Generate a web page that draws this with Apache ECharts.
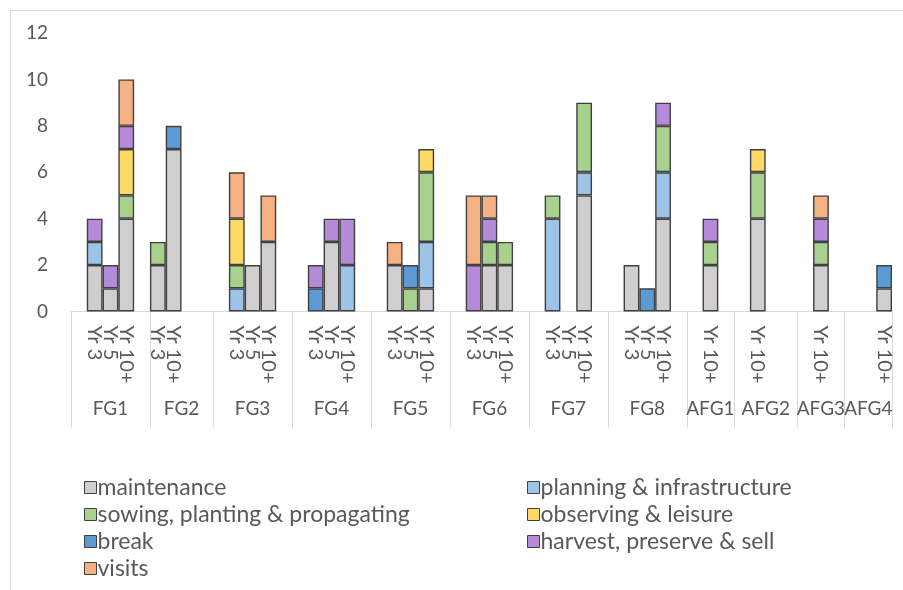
<!DOCTYPE html>
<html>
<head>
<meta charset="utf-8">
<script src="https://cdn.jsdelivr.net/npm/echarts@6/dist/echarts.min.js"></script>
<style>
    html, body { margin: 0; padding: 0; background: #fff; }
    #main { width: 903px; height: 590px; }
</style>
</head>
<body>
<div id="main"></div>
<script>
/* 分组名称及每组的分类槽位（'' 为空槽） */
var groupNames = ['FG1', 'FG2', 'FG3', 'FG4', 'FG5', 'FG6', 'FG7', 'FG8', 'AFG1', 'AFG2', 'AFG3', 'AFG4'];
var groupSlots = [
    ['', 'Yr 3', 'Yr 5', 'Yr 10+', ''],
    ['Yr 3', 'Yr 10+', '', ''],
    ['', 'Yr 3', 'Yr 5', 'Yr 10+', ''],
    ['', 'Yr 3', 'Yr 5', 'Yr 10+', ''],
    ['', 'Yr 3', 'Yr 5', 'Yr 10+', ''],
    ['', 'Yr 3', 'Yr 5', 'Yr 10+', ''],
    ['', 'Yr 3', 'Yr 5', 'Yr 10+', ''],
    ['', 'Yr 3', 'Yr 5', 'Yr 10+', ''],
    ['', 'Yr 10+', ''],
    ['', 'Yr 10+', '', ''],
    ['', 'Yr 10+', ''],
    ['', '', 'Yr 10+']
];

/* 系列名称（同时是图例顺序、堆叠顺序） */
var seriesNames = ['maintenance', 'planning & infrastructure', 'sowing, planting & propagating',
    'observing & leisure', 'break', 'harvest, preserve & sell', 'visits'];
var seriesColors = ['#d0cece', '#9dc3e6', '#a9d18e', '#ffd966', '#5b9bd5', '#b48ad9', '#f4b183'];

/* 每个非空槽位的数值，顺序：FG1(3,5,10+) FG2(3,10+) FG3..FG8(3,5,10+) AFG1..AFG4(10+) */
var maintenance = [2, 1, 4, 2, 7, 0, 2, 3, 0, 3, 0, 2, 0, 1, 0, 2, 2, 0, 0, 5, 2, 0, 4, 2, 4, 2, 1];
var planning    = [1, 0, 0, 0, 0, 1, 0, 0, 0, 0, 2, 0, 0, 2, 0, 0, 0, 4, 0, 1, 0, 0, 2, 0, 0, 0, 0];
var sowing      = [0, 0, 1, 1, 0, 1, 0, 0, 0, 0, 0, 0, 1, 3, 0, 1, 1, 1, 0, 3, 0, 0, 2, 1, 2, 1, 0];
var observing   = [0, 0, 2, 0, 0, 2, 0, 0, 0, 0, 0, 0, 0, 1, 0, 0, 0, 0, 0, 0, 0, 0, 0, 0, 1, 0, 0];
var breaks      = [0, 0, 0, 0, 1, 0, 0, 0, 1, 0, 0, 0, 1, 0, 0, 0, 0, 0, 0, 0, 0, 1, 0, 0, 0, 0, 1];
var harvest     = [1, 1, 1, 0, 0, 0, 0, 0, 1, 1, 2, 0, 0, 0, 2, 1, 0, 0, 0, 0, 0, 0, 1, 1, 0, 1, 0];
var visits      = [0, 0, 2, 0, 0, 2, 0, 2, 0, 0, 0, 1, 0, 0, 3, 1, 0, 0, 0, 0, 0, 0, 0, 0, 0, 1, 0];
var seriesValues = [maintenance, planning, sowing, observing, breaks, harvest, visits];

var yTicks = [0, 2, 4, 6, 8, 10, 12];

/* 展开成完整的槽位表 */
var slotLabels = [];     // 下层标签
var slotGroup = [];      // 上层标签（只在组中间显示）
var groupStart = {};     // 组起始槽位 -> 画分隔线
var barOfSlot = [];      // 槽位 -> 数据下标
var k = 0;
for (var g = 0; g < groupSlots.length; g++) {
    var slots = groupSlots[g];
    groupStart[slotLabels.length] = true;
    var mid = Math.floor((slots.length - 1) / 2);
    for (var s = 0; s < slots.length; s++) {
        slotLabels.push(slots[s]);
        if (s === mid) {
            // 偶数个槽位的组，标签往右挪半格
            slotGroup.push(slots.length % 2 === 0 ? '{s|' + groupNames[g] + '}' : groupNames[g]);
        } else {
            slotGroup.push('');
        }
        if (slots[s] !== '') {
            barOfSlot.push(k++);
        } else {
            barOfSlot.push(-1);
        }
    }
}

function slotData(values) {
    var arr = [];
    for (var i = 0; i < barOfSlot.length; i++) {
        var v = barOfSlot[i] < 0 ? 0 : values[barOfSlot[i]];
        arr.push(v === 0 ? '-' : v);
    }
    return arr;
}

var textColor = '#595959';
var fontName = 'Lato';

var series = [];
for (var i = 0; i < seriesNames.length; i++) {
    series.push({
        name: seriesNames[i],
        type: 'bar',
        stack: 'total',
        barCategoryGap: '0%',
        xAxisIndex: 0,
        itemStyle: {
            color: seriesColors[i],
            borderColor: '#404040',
            borderWidth: 1.4
        },
        data: slotData(seriesValues[i])
    });
}

var legendText = {
    color: textColor,
    fontSize: 23,
    lineHeight: 20,
    fontFamily: fontName,
    padding: [0, 0, 0, -4]
};

var option = {
    animation: false,
    textStyle: { fontFamily: fontName },
    graphic: [{
        type: 'rect',
        shape: { x: 10.5, y: 10.5, width: 1000, height: 1000 },
        style: { fill: 'none', stroke: '#d9d9d9', lineWidth: 1 },
        silent: true
    }],
    grid: { left: 71, right: 11, top: 33, bottom: 278.5, containLabel: false },
    legend: [{
        orient: 'vertical',
        left: 79,
        top: 471,
        height: 200,
        itemWidth: 12,
        itemHeight: 12,
        itemGap: 4,
        icon: 'rect',
        itemStyle: { borderColor: '#404040', borderWidth: 1 },
        textStyle: legendText,
        data: ['maintenance', 'sowing, planting & propagating', 'break', 'visits']
    }, {
        orient: 'vertical',
        left: 522,
        top: 471,
        height: 200,
        itemWidth: 12,
        itemHeight: 12,
        itemGap: 4,
        icon: 'rect',
        itemStyle: { borderColor: '#404040', borderWidth: 1 },
        textStyle: legendText,
        data: ['planning & infrastructure', 'observing & leisure', 'harvest, preserve & sell']
    }],
    xAxis: [{
        type: 'category',
        data: slotLabels,
        axisLine: { show: true, lineStyle: { color: '#d9d9d9', width: 1 } },
        axisTick: { show: false },
        axisLabel: {
            interval: 0,
            rotate: -90,
            margin: 14,
            color: textColor,
            fontSize: 20,
            fontFamily: fontName
        }
    }, {
        type: 'category',
        position: 'bottom',
        data: slotGroup,
        axisLine: { show: false },
        axisTick: {
            show: true,
            length: 116,
            lineStyle: { color: '#d9d9d9', width: 1 },
            interval: function (index) { return !!groupStart[index]; }
        },
        axisLabel: {
            interval: 0,
            margin: 88,
            color: textColor,
            fontSize: 19,
            fontFamily: fontName,
            rich: {
                s: { padding: [0, 0, 0, 16], color: textColor, fontSize: 19, fontFamily: fontName }
            }
        }
    }],
    yAxis: {
        type: 'value',
        min: yTicks[0],
        max: yTicks[yTicks.length - 1],
        interval: 2,
        axisLine: { show: false },
        axisTick: { show: false },
        splitLine: { show: false },
        axisLabel: { color: textColor, fontSize: 19, margin: 23, fontFamily: fontName }
    },
    series: series
};

var myChart = echarts.init(document.getElementById('main'), null, { renderer: 'canvas' });
myChart.setOption(option);
</script>
</body>
</html>
